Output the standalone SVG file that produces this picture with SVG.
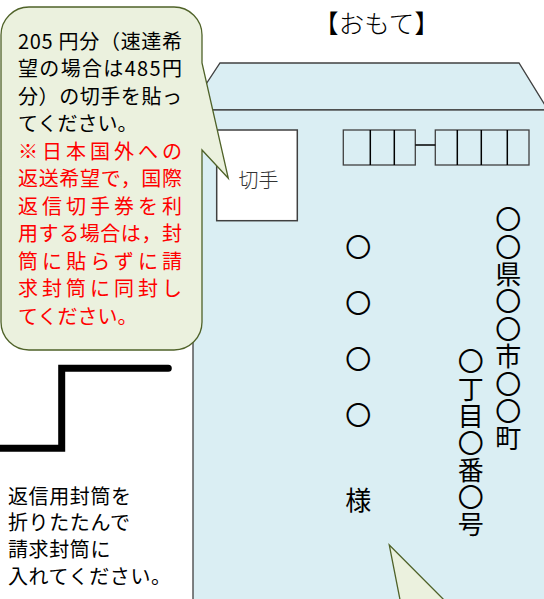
<svg xmlns="http://www.w3.org/2000/svg" width="544" height="599" viewBox="0 0 544 599">
<style>
.jp{font-family:"Noto Sans CJK JP","Noto Sans",sans-serif}
.env{fill:#DAEEF3;stroke:#404040;stroke-width:1.3}
.bub{fill:#EBF1DE;stroke:#4F6228;stroke-width:1.3}
.box{fill:none;stroke:#404040;stroke-width:1.3}
.div{stroke:#000;stroke-width:1.5}
.b{font-size:20px;fill:#000}
.r{font-size:20px;fill:#FF0000}
.addr{font-size:26px;fill:#000;text-anchor:middle}
.vert{font-size:26px;fill:#000;writing-mode:vertical-rl}
.bt{font-size:20px;fill:#000;letter-spacing:0.6px}
</style>
<rect width="544" height="599" fill="#fff"/>
<g id="envelope">
<polygon class="env" points="220,63 519,63 548,110 189,110"/>
<rect class="env" x="193" y="110" width="370" height="510"/>
</g>
<g id="title">
<text class="jp" x="376.5" y="33" font-size="25.5" text-anchor="middle" fill="#000" font-weight="300">【おもて】</text>
</g>
<g id="stamp">
<rect x="216.7" y="130" width="80.6" height="90.7" fill="#fff" stroke="#404040" stroke-width="1.5"/>
<text class="jp" x="258.5" y="188" font-size="20" text-anchor="middle" fill="#333" font-weight="300">切手</text>
</g>
<g id="postal-code">
<rect class="box" x="343.3" y="130" width="72" height="35"/>
<line class="div" x1="370.3" y1="130" x2="370.3" y2="165"/>
<line class="div" x1="394.3" y1="130" x2="394.3" y2="165"/>
<rect class="box" x="435.3" y="130" width="93.7" height="35"/>
<line class="div" x1="457.3" y1="130" x2="457.3" y2="165"/>
<line class="div" x1="481.3" y1="130" x2="481.3" y2="165"/>
<line class="div" x1="507.3" y1="130" x2="507.3" y2="165"/>
</g>
<g id="address" class="jp">
<text class="vert" x="508.3" y="206.3" letter-spacing="1.4">〇〇県〇〇市〇〇町</text>
<text class="vert" x="470.7" y="348.6" letter-spacing="1.1">〇丁目〇番〇号</text>
</g>
<g id="name" class="jp">
<text class="addr" x="358.3" y="256.5">〇</text>
<text class="addr" x="358.3" y="313">〇</text>
<text class="addr" x="358.3" y="369">〇</text>
<text class="addr" x="358.3" y="425">〇</text>
<text class="addr" x="358.3" y="510">様</text>
</g>
<g id="callout-stamp">
<path class="bub" d="M29,7 H174 A28,28 0 0 1 202,35 V63 L228.3,178.3 L202,150 V322 A28,28 0 0 1 174,350 H29 A28,28 0 0 1 1,322 V35 A28,28 0 0 1 29,7 Z"/>
<g class="jp">
<text class="b" x="18" y="48.5" textLength="164" lengthAdjust="spacing">205 円分（速達希</text>
<text class="b" x="18" y="76" textLength="164" lengthAdjust="spacing">望の場合は485円</text>
<text class="b" x="18" y="103.5" textLength="164" lengthAdjust="spacing">分）の切手を貼っ</text>
<text class="b" x="18" y="131">てください。</text>
<text class="r" x="18" y="158.5" textLength="164" lengthAdjust="spacing">※日本国外への</text>
<text class="r" x="18" y="186" textLength="164" lengthAdjust="spacing">返送希望で，国際</text>
<text class="r" x="18" y="213.5" textLength="164" lengthAdjust="spacing">返信切手券を利</text>
<text class="r" x="18" y="241" textLength="164" lengthAdjust="spacing">用する場合は，封</text>
<text class="r" x="18" y="268.5" textLength="164" lengthAdjust="spacing">筒に貼らずに請</text>
<text class="r" x="18" y="296" textLength="164" lengthAdjust="spacing">求封筒に同封し</text>
<text class="r" x="18" y="323.5">てください。</text>
</g>
</g>
<g id="callout-bottom">
<polygon class="bub" points="389.3,545 404,620 464,620"/>
</g>
<g id="connectors">
<line x1="415.3" y1="145" x2="435.3" y2="145" stroke="#000" stroke-width="1.5"/>
<polyline points="-5,448.3 61.7,448.3 61.7,368.3 168.3,368.3" fill="none" stroke="#000" stroke-width="7" stroke-linecap="round" stroke-linejoin="miter"/>
</g>
<g id="fold-note" class="jp">
<text class="bt" x="8" y="503.5">返信用封筒を</text>
<text class="bt" x="8" y="530.2">折りたたんで</text>
<text class="bt" x="8" y="557">請求封筒に</text>
<text class="bt" x="8" y="583.7">入れてください。</text>
</g>
</svg>
